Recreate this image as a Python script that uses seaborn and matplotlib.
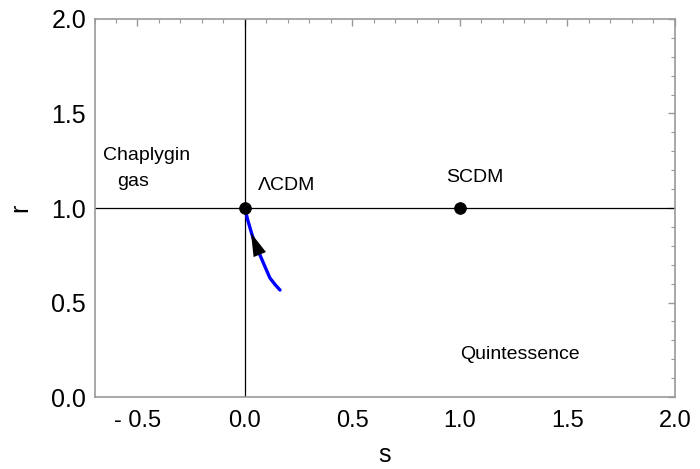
import matplotlib
matplotlib.use("Agg")
import matplotlib.pyplot as plt
import seaborn as sns
import pandas as pd
from matplotlib.ticker import MultipleLocator

sns.set_theme(style="white")
plt.rcParams['font.family'] = ['Liberation Sans', 'DejaVu Sans']
plt.rcParams['text.color'] = 'black'
plt.rcParams['axes.labelcolor'] = 'black'

# trajectory in the s-r plane
s_vals = [0.0, 0.012, 0.031, 0.050, 0.070, 0.093, 0.116, 0.140, 0.163]
r_vals = [1.0, 0.94, 0.866, 0.80, 0.751, 0.69, 0.630, 0.595, 0.566]

# fixed points
pt_s = [0.0, 1.0]
pt_r = [1.0, 1.0]

xticks = [-0.5, 0.0, 0.5, 1.0, 1.5, 2.0]
xtick_labels = ["- 0.5", "0.0", "0.5", "1.0", "1.5", "2.0"]
yticks = [0.0, 0.5, 1.0, 1.5, 2.0]
ytick_labels = ["0.0", "0.5", "1.0", "1.5", "2.0"]

fig = plt.figure(figsize=(7.0, 4.69), dpi=100)
ax = fig.add_axes([0.135, 0.1535, 0.829, 0.806])

ax.axhline(1.0, color="black", lw=0.9, zorder=1)
ax.axvline(0.0, color="black", lw=0.9, zorder=1)

df = pd.DataFrame({"s": s_vals, "r": r_vals})
sns.lineplot(data=df, x="s", y="r", sort=False, color="#0000ff", lw=2.4, ax=ax, zorder=2)
sns.scatterplot(x=pt_s, y=pt_r, color="black", s=70, ax=ax, zorder=4, edgecolor="black")

# arrow head along the trajectory
ax.annotate("", xy=(0.028, 0.868), xytext=(0.070, 0.751),
            arrowprops=dict(arrowstyle="-|>,head_length=0.7,head_width=0.2",
                            mutation_scale=24, color="black", lw=0,
                            shrinkA=0, shrinkB=0), zorder=5)

ax.text(-0.66, 1.28, "Chaplygin", fontsize=14, va="center", ha="left", color="black")
ax.text(-0.595, 1.138, "gas", fontsize=14, va="center", ha="left", color="black")
ax.text(0.06, 1.12, "ΛCDM", fontsize=14, va="center", ha="left", color="black")
ax.text(0.935, 1.16, "SCDM", fontsize=14, va="center", ha="left", color="black")
ax.text(1.0, 0.227, "Quintessence", fontsize=14, va="center", ha="left", color="black")

ax.set_xlim(-0.7, 2.0)
ax.set_ylim(0.0, 2.0)
ax.set_xticks(xticks)
ax.set_xticklabels(xtick_labels)
ax.set_yticks(yticks)
ax.set_yticklabels(ytick_labels)
ax.xaxis.set_minor_locator(MultipleLocator(0.1))
ax.yaxis.set_minor_locator(MultipleLocator(0.1))
ax.tick_params(which="both", direction="in", top=True, right=True, colors="#999999",
               labelcolor="black")
ax.tick_params(axis="x", which="major", labelsize=17, pad=9)
ax.tick_params(axis="y", which="major", labelsize=18, pad=6)
ax.tick_params(which="major", length=5, width=1)
ax.tick_params(which="minor", length=3, width=0.8)
for sp in ax.spines.values():
    sp.set_color("#999999")
    sp.set_linewidth(1.2)

ax.set_xlabel("s", fontsize=18, labelpad=8, color="black")
ax.set_ylabel("r", fontsize=18, labelpad=14, color="black")

fig.savefig("out.png", dpi=100)
